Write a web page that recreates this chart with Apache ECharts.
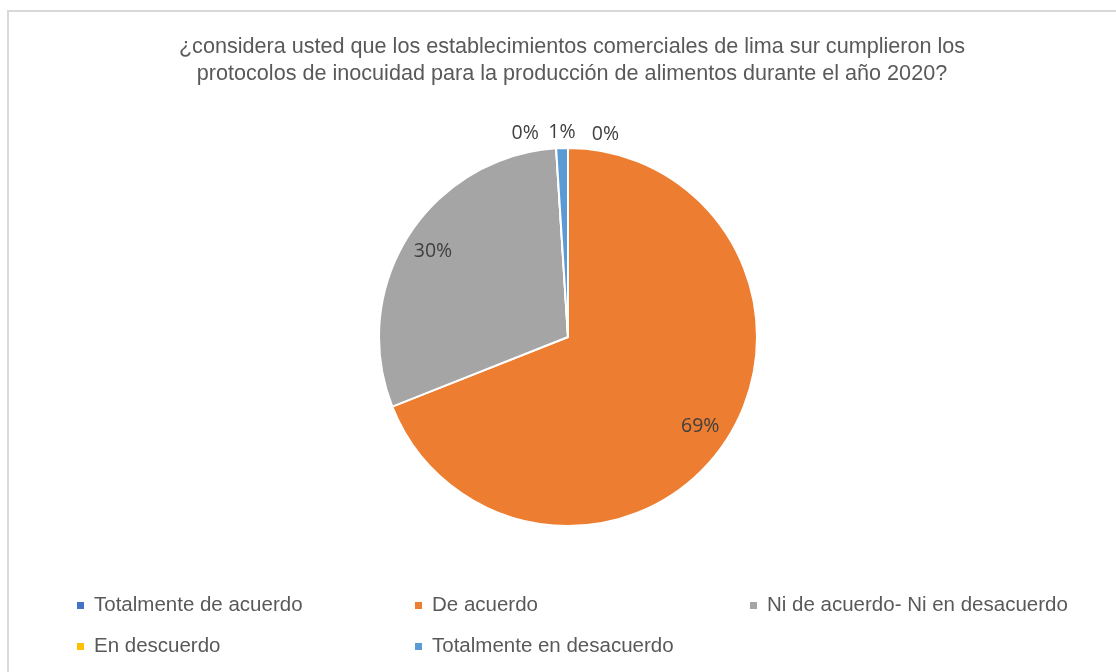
<!DOCTYPE html>
<html>
<head>
<meta charset="utf-8">
<script src="https://cdn.jsdelivr.net/npm/echarts@6/dist/echarts.min.js"></script>
<style>
  html, body { margin: 0; padding: 0; background: #fff; overflow: hidden; }
  #chart { width: 1116px; height: 672px; }
  .frame {
    position: absolute; left: 7px; top: 10px; width: 1150px; height: 700px;
    border-left: 2px solid #d9d9d9; border-top: 2px solid #d9d9d9;
    pointer-events: none;
  }
</style>
</head>
<body>
<div id="chart"></div>
<div class="frame"></div>
<script>
// datos (porcentajes)
const categorias = ['Totalmente de acuerdo', 'De acuerdo', 'Ni de acuerdo- Ni en desacuerdo', 'En descuerdo', 'Totalmente en desacuerdo']
const valores = [0, 69, 30, 0, 1]
const colores = ['#4472c4', '#ed7d31', '#a5a5a5', '#ffc000', '#5b9bd5']

const titulo = '¿considera usted que los establecimientos comerciales de lima sur cumplieron los\nprotocolos de inocuidad para la producción de alimentos durante el año 2020?'

const fuenteTitulo = "'Liberation Sans Narrow', 'Arial Narrow', 'Liberation Sans', sans-serif"
const fuente = "'Open Sans', 'Noto Sans', sans-serif"

const center = ['568', '337']
const radio = 189

const chart = echarts.init(document.getElementById('chart'))

const datos = categorias.map((c, i) => ({ name: c, value: valores[i] }))

// leyenda en 3 columnas como en excel
const columnasX = [75, 413, 748]
const leyendas = columnasX.map((x, col) => ({
  left: x,
  top: 595,
  orient: 'vertical',
  padding: 0,
  icon: 'rect',
  itemWidth: 9,
  itemHeight: 9,
  itemGap: 20,
  data: categorias.filter((c, i) => i % 3 === col),
  textStyle: {
    color: '#595959',
    fontFamily: fuenteTitulo,
    fontSize: 20.5,
    padding: [0, 0, 0, 4]
  }
}))

const option = {
  color: colores,
  title: {
    text: titulo,
    left: 567,
    top: 29,
    textAlign: 'center',
    textStyle: {
      color: '#595959',
      fontFamily: fuenteTitulo,
      fontWeight: 'normal',
      fontSize: 21.6,
      lineHeight: 27
    }
  },
  legend: leyendas,
  series: [
    {
      name: 'pie',
      type: 'pie',
      center: center,
      radius: radio,
      startAngle: 90,
      clockwise: true,
      silent: true,
      stillShowZeroSum: true,
      avoidLabelOverlap: false,
      itemStyle: { borderColor: '#fff', borderWidth: 2 },
      label: {
        show: true,
        position: 'outside',
        formatter: p => p.value + '%',
        color: '#404040',
        fontFamily: fuente,
        fontSize: 19.5
      },
      labelLine: { show: false, length: 6, length2: 0 },
      labelLayout: function (p) {
        if (valores[p.dataIndex] >= 5) return { x: -1000, y: -1000 }
        if (p.dataIndex === 4) return { align: 'center', dx: 5, dy: -10 }
        if (p.dataIndex === 3) return { dx: -12, dy: -9 }
        return { dx: 56, dy: -8 }
      },
      data: datos
    },
    {
      name: 'etiquetas',
      type: 'pie',
      center: center,
      radius: [radio * 0.66, radio],
      startAngle: 90,
      clockwise: true,
      silent: true,
      avoidLabelOverlap: false,
      itemStyle: { color: 'rgba(0,0,0,0)' },
      label: {
        show: true,
        position: 'inside',
        formatter: p => (p.value >= 5 ? p.value + '%' : ''),
        color: '#404040',
        fontFamily: fuente,
        fontSize: 19.5
      },
      labelLine: { show: false },
      data: datos
    }
  ]
}

chart.setOption(option)
</script>
</body>
</html>
